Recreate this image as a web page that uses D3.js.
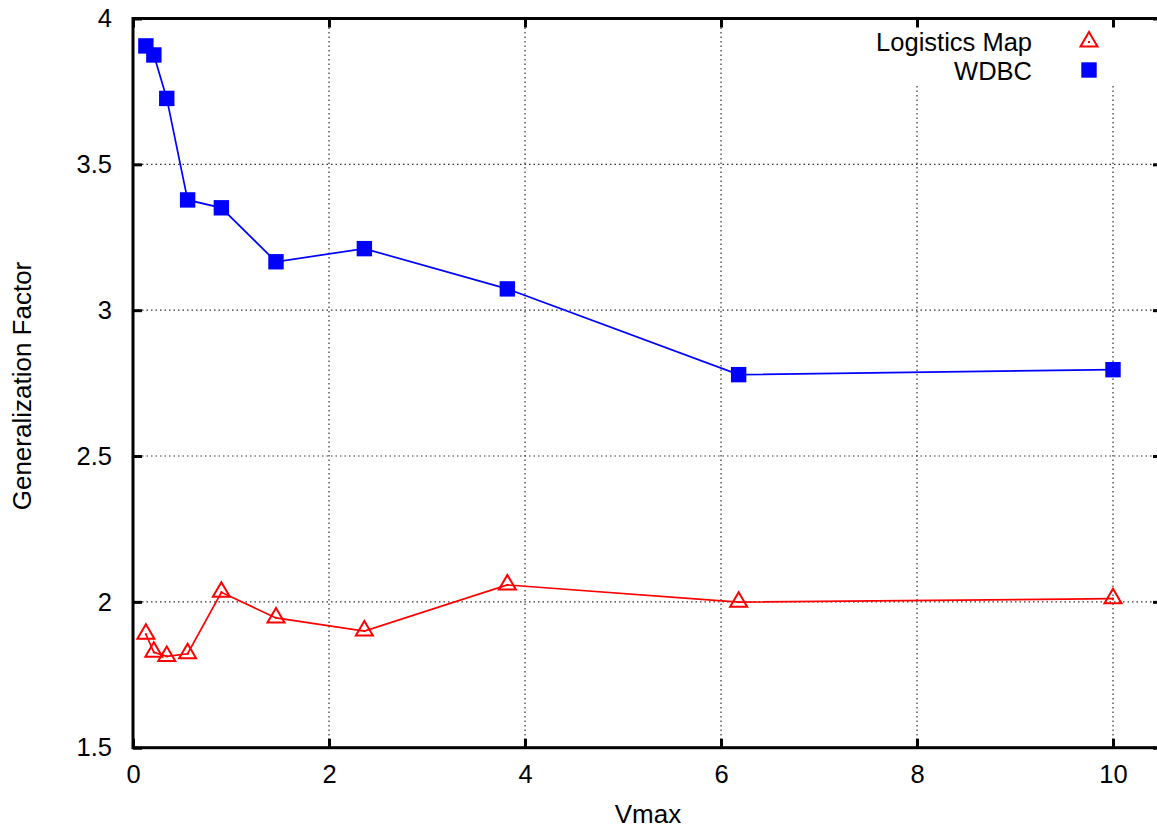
<!DOCTYPE html>
<html lang="en">
<head>
    <meta charset="utf-8">
    <title>Generalization Factor vs Vmax</title>
    <script type="text/javascript" src="https://d3js.org/d3.v7.min.js"></script>
    <style>
        body { margin: 0; background: white; }
        svg { display: block; font-family: "Liberation Sans", Arial, sans-serif; }
        .tick-label { font-size: 25.5px; fill: black; }
        .title { font-size: 26px; fill: black; }
        .key { font-size: 25.5px; fill: black; }
    </style>
</head>
<body>
    <div id="chart"></div>
    <script type="text/javascript">
        // data
        const vmax = [0.1315, 0.2128, 0.3444, 0.5573, 0.9017, 1.459, 2.361, 3.820, 6.180, 10.0];
        const logistics = [1.889, 1.827, 1.813, 1.822, 2.033, 1.945, 1.900, 2.058, 1.999, 2.011];
        const wdbc = [3.906, 3.875, 3.726, 3.378, 3.351, 3.166, 3.211, 3.073, 2.779, 2.796];
        const seriesNames = ["Logistics Map", "WDBC"];
        const xTicks = [0, 2, 4, 6, 8, 10];
        const yTicks = [1.5, 2, 2.5, 3, 3.5, 4];

        const width = 1157;
        const height = 830;
        const plotLeft = 133, plotRight = 1162, plotTop = 18.5, plotBottom = 747.7;

        const svg = d3.select("#chart")
            .append("svg")
            .attr("width", width)
            .attr("height", height);

        const x = d3.scaleLinear().domain([0, 10.5]).range([plotLeft, plotRight]);
        const y = d3.scaleLinear().domain([1.5, 4]).range([plotBottom, plotTop]);

        // dotted grid
        const grid = svg.append("g").attr("class", "grid");
        grid.selectAll("line.gx")
            .data(xTicks.filter(d => d > 0))
            .enter().append("line")
                .attr("x1", d => x(d)).attr("x2", d => x(d))
                .attr("y1", plotTop).attr("y2", plotBottom)
                .attr("stroke", "#333").attr("stroke-width", 1.2)
                .attr("stroke-dasharray", "1.5,3");
        grid.selectAll("line.gy")
            .data(yTicks.filter(d => d > 1.5 && d < 4))
            .enter().append("line")
                .attr("x1", plotLeft).attr("x2", plotRight)
                .attr("y1", d => y(d)).attr("y2", d => y(d))
                .attr("stroke", "#333").attr("stroke-width", 1.2)
                .attr("stroke-dasharray", "1.5,3");

        // key box hides the grid behind it
        svg.append("rect")
            .attr("x", 862).attr("y", plotTop + 2)
            .attr("width", plotRight - 862).attr("height", 65)
            .attr("fill", "white");

        // axes (ticks point inwards, mirrored)
        const tickLen = 9;
        const fmt = d => String(d);
        const xAxis = d3.axisBottom(x).tickValues(xTicks).tickFormat(fmt).tickSizeInner(-tickLen).tickSizeOuter(0);
        const xAxisTop = d3.axisTop(x).tickValues(xTicks).tickSizeInner(-tickLen).tickSizeOuter(0).tickFormat("");
        const yAxis = d3.axisLeft(y).tickValues(yTicks).tickFormat(fmt).tickSizeInner(-tickLen).tickSizeOuter(0).tickPadding(21);
        const yAxisRight = d3.axisRight(y).tickValues(yTicks).tickSizeInner(-tickLen).tickSizeOuter(0).tickFormat("");

        function styleAxis(g) {
            g.select(".domain").remove();
            g.selectAll(".tick line").attr("stroke", "black").attr("stroke-width", 3);
            g.selectAll(".tick text").attr("class", "tick-label").attr("font-size", null).attr("font-family", null);
        }

        svg.append("g").attr("transform", "translate(0," + plotBottom + ")").call(xAxis).call(styleAxis)
            .selectAll(".tick text").attr("dy", null).attr("y", 35);
        svg.append("g").attr("transform", "translate(0," + plotTop + ")").call(xAxisTop).call(styleAxis);
        svg.append("g").attr("transform", "translate(" + plotLeft + ",0)").call(yAxis).call(styleAxis);
        svg.append("g").attr("transform", "translate(" + plotRight + ",0)").call(yAxisRight).call(styleAxis);

        // border
        svg.append("rect")
            .attr("x", plotLeft).attr("y", plotTop)
            .attr("width", plotRight - plotLeft).attr("height", plotBottom - plotTop)
            .attr("fill", "none").attr("stroke", "black").attr("stroke-width", 3);

        // titles
        svg.append("text").attr("class", "title")
            .attr("x", 648).attr("y", 823)
            .attr("text-anchor", "middle").text("Vmax");
        svg.append("text").attr("class", "title")
            .attr("transform", "translate(31," + 386 + ") rotate(-90)")
            .attr("text-anchor", "middle").text("Generalization Factor");

        const line = d3.line().x(d => x(d[0])).y(d => y(d[1]));
        const redData = vmax.map((v, i) => [v, logistics[i]]);
        const blueData = vmax.map((v, i) => [v, wdbc[i]]);

        function triangle(g, cx, cy) {
            const s = 8.5;
            g.append("path")
                .attr("d", "M" + cx + "," + (cy - 10) + "L" + (cx + s) + "," + (cy + 4.5) + "L" + (cx - s) + "," + (cy + 4.5) + "Z")
                .attr("fill", "none").attr("stroke", "red").attr("stroke-width", 2);
            g.append("rect").attr("x", cx - 1).attr("y", cy - 1).attr("width", 2).attr("height", 2).attr("fill", "red");
        }
        function square(g, cx, cy) {
            g.append("rect").attr("x", cx - 7.7).attr("y", cy - 7.7)
                .attr("width", 15.4).attr("height", 15.4).attr("fill", "#0000ff");
        }

        // Logistics Map
        svg.append("path").datum(redData)
            .attr("d", line).attr("fill", "none").attr("stroke", "red").attr("stroke-width", 1.7);
        const redPts = svg.append("g");
        redData.forEach(d => triangle(redPts, x(d[0]), y(d[1])));

        // WDBC
        svg.append("path").datum(blueData)
            .attr("d", line).attr("fill", "none").attr("stroke", "#0000ff").attr("stroke-width", 1.7);
        const bluePts = svg.append("g");
        blueData.forEach(d => square(bluePts, x(d[0]), y(d[1])));

        // legend
        const legend = svg.append("g");
        const legendY = [42, 71];
        seriesNames.forEach((name, i) => {
            legend.append("text").attr("class", "key")
                .attr("x", 1032).attr("y", legendY[i])
                .attr("dy", "0.35em").attr("text-anchor", "end").text(name);
        });
        triangle(legend, 1089, legendY[0]);
        square(legend, 1089, legendY[1] - 1);
    </script>
</body>
</html>
